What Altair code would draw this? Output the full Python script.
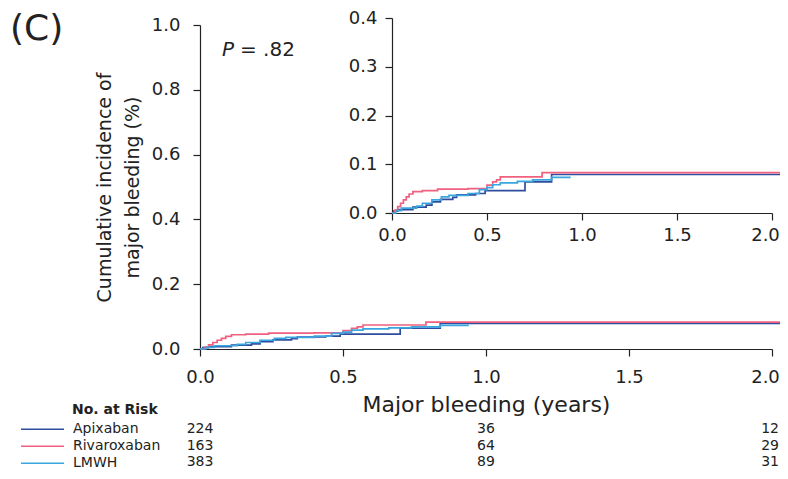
import altair as alt
import pandas as pd

# ---- data ----
series_names = ["Apixaban", "Rivaroxaban", "LMWH"]
series_colors = ["#2f4d9e", "#f0607f", "#3aa6e0"]

apix_years = [0, 0.01, 0.03, 0.11, 0.18, 0.21, 0.255, 0.32, 0.34, 0.44, 0.49, 0.70, 0.84, 2.1]
apix_inc   = [0, 0.004, 0.007, 0.012, 0.016, 0.023, 0.028, 0.032, 0.037, 0.040, 0.046, 0.064, 0.079, 0.079]

riva_years = [0, 0.015, 0.03, 0.045, 0.06, 0.075, 0.09, 0.11, 0.16, 0.24, 0.40, 0.50, 0.53, 0.55, 0.57, 0.79, 2.1]
riva_inc   = [0, 0.006, 0.013, 0.020, 0.027, 0.033, 0.039, 0.044, 0.046, 0.049, 0.050, 0.057, 0.064, 0.068, 0.074, 0.083, 0.083]

lmwh_years = [0, 0.02, 0.05, 0.13, 0.16, 0.21, 0.26, 0.30, 0.40, 0.46, 0.50, 0.53, 0.57, 0.66, 0.74, 0.84, 0.94]
lmwh_inc   = [0, 0.005, 0.010, 0.014, 0.020, 0.027, 0.033, 0.036, 0.040, 0.048, 0.052, 0.058, 0.062, 0.065, 0.068, 0.073, 0.073]

risk_years = [0, 1, 2]
risk_apix = [224, 36, 12]
risk_riva = [163, 64, 29]
risk_lmwh = [383, 89, 31]

main_y_ticks = [0, 0.2, 0.4, 0.6, 0.8, 1.0]
inset_y_ticks = [0, 0.1, 0.2, 0.3, 0.4]
x_ticks = [0, 0.5, 1.0, 1.5, 2.0]

# ---- tables ----
rows = []
for name, ys, vs in [("Apixaban", apix_years, apix_inc),
                     ("Rivaroxaban", riva_years, riva_inc),
                     ("LMWH", lmwh_years, lmwh_inc)]:
    for t, v in zip(ys, vs):
        rows.append({"series": name, "year": t, "inc": v})
curves = pd.DataFrame(rows)

risk_rows = []
for i, (name, vals) in enumerate([("Apixaban", risk_apix), ("Rivaroxaban", risk_riva), ("LMWH", risk_lmwh)]):
    for t, n in zip(risk_years, vals):
        risk_rows.append({"series": name, "year": t, "n": str(n), "row": i})
risk = pd.DataFrame(risk_rows)

FONT = "DejaVu Sans"
INK = "#222222"
W, H = 572, 324
ROW_TOP, ROW_H = 396, 16.5
TABLE_FS = 14

color = alt.Color("series:N",
                  scale=alt.Scale(domain=series_names, range=series_colors),
                  sort=series_names,
                  legend=alt.Legend(orient="none", legendX=-180, legendY=ROW_TOP, title=None,
                                    symbolType="stroke", symbolSize=1849, symbolStrokeWidth=1.6,
                                    clipHeight=ROW_H, rowPadding=0, padding=0, labelOffset=8,
                                    labelFont=FONT, labelFontSize=TABLE_FS, labelColor=INK))

axis_common = dict(domainColor=INK, tickColor=INK, labelColor=INK, labelFont=FONT,
                   labelFontSize=18, tickSize=7, domainWidth=1.2, tickWidth=1.2,
                   grid=False, labelFlush=False, format=".1f")
# keep the last x label ("2.0") inside the page edge
last_label_shift = {"condition": {"test": "datum.value == 2", "value": -7}, "value": 0}

main = alt.Chart(curves).mark_line(interpolate="step-after", strokeWidth=1.7, clip=False).encode(
    x=alt.X("year:Q", scale=alt.Scale(domain=[0, 2], nice=False),
            axis=alt.Axis(values=x_ticks, labelPadding=12, labelOffset=last_label_shift,
                          title="Major bleeding (years)",
                          titleFont=FONT, titleFontSize=22, titleFontWeight="normal",
                          titleColor=INK, titlePadding=8, **axis_common)),
    y=alt.Y("inc:Q", scale=alt.Scale(domain=[0, 1], nice=False),
            axis=alt.Axis(values=main_y_ticks, labelPadding=13,
                          title=["Cumulative incidence of", "major bleeding (%)"],
                          titleFont=FONT, titleFontSize=19, titleFontWeight="normal",
                          titleColor=INK, titlePadding=9, titleLineHeight=28, **axis_common)),
    color=color,
    detail="series:N",
)

inset = alt.Chart(curves).mark_line(interpolate="step-after", strokeWidth=1.7, clip=False).encode(
    x=alt.X("year:Q", scale=alt.Scale(domain=[0, 2], nice=False, range=[192, 572]),
            axis=alt.Axis(values=x_ticks, orient="bottom", offset=-136, labelPadding=6,
                          labelOffset=last_label_shift, title=None, **axis_common)),
    y=alt.Y("inc:Q", scale=alt.Scale(domain=[0, 0.4], nice=False, range=[188, -7]),
            axis=alt.Axis(values=inset_y_ticks, orient="left", offset=-192, labelPadding=8,
                          title=None, **axis_common)),
    color=alt.Color("series:N", scale=alt.Scale(domain=series_names, range=series_colors), legend=None),
    detail="series:N",
)

num_x = alt.X("year:Q", scale=alt.Scale(domain=[0, 2], nice=False), axis=None)
num_y = alt.Y("row:Q", scale=alt.Scale(domain=[0, 2],
                                       range=[ROW_TOP + ROW_H / 2, ROW_TOP + 2.5 * ROW_H]), axis=None)

numbers = alt.Chart(risk).transform_filter("datum.year < 2").mark_text(
    font=FONT, fontSize=TABLE_FS, color=INK, align="center", baseline="middle"
).encode(x=num_x, y=num_y, text="n:N")

numbers_last = alt.Chart(risk).transform_filter("datum.year == 2").mark_text(
    font=FONT, fontSize=TABLE_FS, color=INK, align="right", baseline="middle", dx=7
).encode(x=num_x, y=num_y, text="n:N")

header = alt.Chart(pd.DataFrame({"t": ["No. at Risk"]})).mark_text(
    font=FONT, fontSize=TABLE_FS, fontWeight="bold", color=INK, align="left", baseline="middle"
).encode(text="t:N", x=alt.value(-128), y=alt.value(ROW_TOP - 11))

panel = alt.Chart(pd.DataFrame({"t": ["(C)"]})).mark_text(
    font=FONT, fontSize=36, color=INK, align="left", baseline="middle"
).encode(text="t:N", x=alt.value(-190), y=alt.value(4))

p_letter = alt.Chart(pd.DataFrame({"t": ["P"]})).mark_text(
    font=FONT, fontSize=20, fontStyle="italic", color=INK, align="left", baseline="middle"
).encode(text="t:N", x=alt.value(22), y=alt.value(25))

p_value = alt.Chart(pd.DataFrame({"t": ["= .82"]})).mark_text(
    font=FONT, fontSize=20, color=INK, align="left", baseline="middle"
).encode(text="t:N", x=alt.value(40), y=alt.value(25))

chart = alt.layer(main, inset, numbers, numbers_last, header, panel, p_letter, p_value).resolve_scale(
    x="independent", y="independent", color="independent"
).resolve_axis(x="independent", y="independent").properties(
    width=W, height=H,
    autosize=alt.AutoSizeParams(type="none"),
    padding={"left": 192, "top": 17, "right": 8, "bottom": 122},
    background="white",
).configure_view(stroke=None)

chart.save("out.html", embed_options={"renderer": "svg", "actions": False})
